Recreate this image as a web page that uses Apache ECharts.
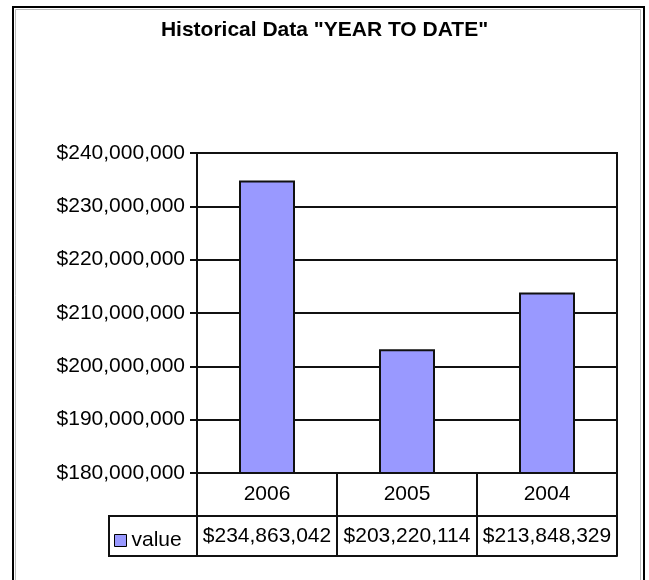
<!DOCTYPE html>
<html>
<head>
<meta charset="utf-8">
<script src="https://cdn.jsdelivr.net/npm/echarts@6/dist/echarts.min.js"></script>
<style>
  html, body { margin: 0; padding: 0; background: #fff; }
  #chart { width: 649px; height: 580px; }
</style>
</head>
<body>
<div id="chart"></div>
<script>
// 数据
var years = ['2006', '2005', '2004'];
var values = [234863042, 203220114, 213848329];
var seriesName = 'value';
var yMin = 180000000, yMax = 240000000, yStep = 10000000;

function money(v) {
  return '$' + Number(v).toLocaleString('en-US');
}

var font = '"Liberation Sans", Arial, sans-serif';
var myChart = echarts.init(document.getElementById('chart'));
myChart.setOption({
  animation: false,
  backgroundColor: '#fff',
  title: {
    text: 'Historical Data "YEAR TO DATE"',
    left: 'center',
    top: 15,
    textStyle: { fontFamily: font, fontSize: 21, fontWeight: 'bold', color: '#000' }
  },
  // 图例放在数据表左下角
  legend: {
    data: [seriesName],
    left: 114,
    top: 530,
    padding: 0,
    itemWidth: 12,
    itemHeight: 12,
    icon: 'rect',
    itemStyle: { borderColor: '#000', borderWidth: 1 },
    textStyle: { fontFamily: font, fontSize: 21, color: '#000' }
  },
  grid: {
    left: 197,
    right: 32,
    top: 153,
    bottom: 107,
    show: true,
    borderColor: '#111',
    borderWidth: 2
  },
  xAxis: [
    {
      type: 'category',
      data: years,
      position: 'bottom',
      axisLine: { lineStyle: { color: '#111', width: 2 } },
      axisTick: { show: true, length: 83, lineStyle: { color: '#111', width: 2 } },
      axisLabel: { interval: 0, margin: 11, fontFamily: font, fontSize: 21, color: '#000' }
    },
    {
      type: 'category',
      data: years,
      position: 'bottom',
      offset: 43,
      axisLine: { lineStyle: { color: '#111', width: 2 } },
      axisTick: { show: false },
      axisLabel: {
        interval: 0,
        hideOverlap: false,
        margin: 10,
        fontFamily: font, fontSize: 21, color: '#000',
        formatter: function (v, i) { return money(values[i]); }
      }
    },
    {
      type: 'category',
      data: years,
      position: 'bottom',
      offset: 83,
      axisLine: { lineStyle: { color: '#111', width: 2 } },
      axisTick: { show: false },
      axisLabel: { show: false }
    }
  ],
  yAxis: {
    type: 'value',
    min: yMin,
    max: yMax,
    interval: yStep,
    axisLine: { show: true, lineStyle: { color: '#111', width: 2 } },
    axisTick: { show: true, length: 7, lineStyle: { color: '#111', width: 2 } },
    splitLine: { lineStyle: { color: '#111', width: 2 } },
    axisLabel: { margin: 12, fontFamily: font, fontSize: 21, color: '#000', formatter: money }
  },
  series: [
    {
      name: seriesName,
      type: 'bar',
      xAxisIndex: 0,
      data: values,
      barWidth: '40%',
      itemStyle: { color: '#9999ff', borderColor: '#111', borderWidth: 2 }
    }
  ],
  graphic: [
    // 外框
    {
      type: 'rect',
      shape: { x: 13, y: 7, width: 631, height: 600 },
      style: { fill: null, stroke: '#000', lineWidth: 2 },
      silent: true
    },
    {
      type: 'rect',
      shape: { x: 15.5, y: 9.5, width: 625, height: 600 },
      style: { fill: null, stroke: '#bbb', lineWidth: 1 },
      silent: true
    },
    // 图例单元格
    {
      type: 'rect',
      shape: { x: 109, y: 516, width: 88, height: 40 },
      style: { fill: null, stroke: '#111', lineWidth: 2 },
      silent: true
    }
  ]
});
</script>
</body>
</html>
